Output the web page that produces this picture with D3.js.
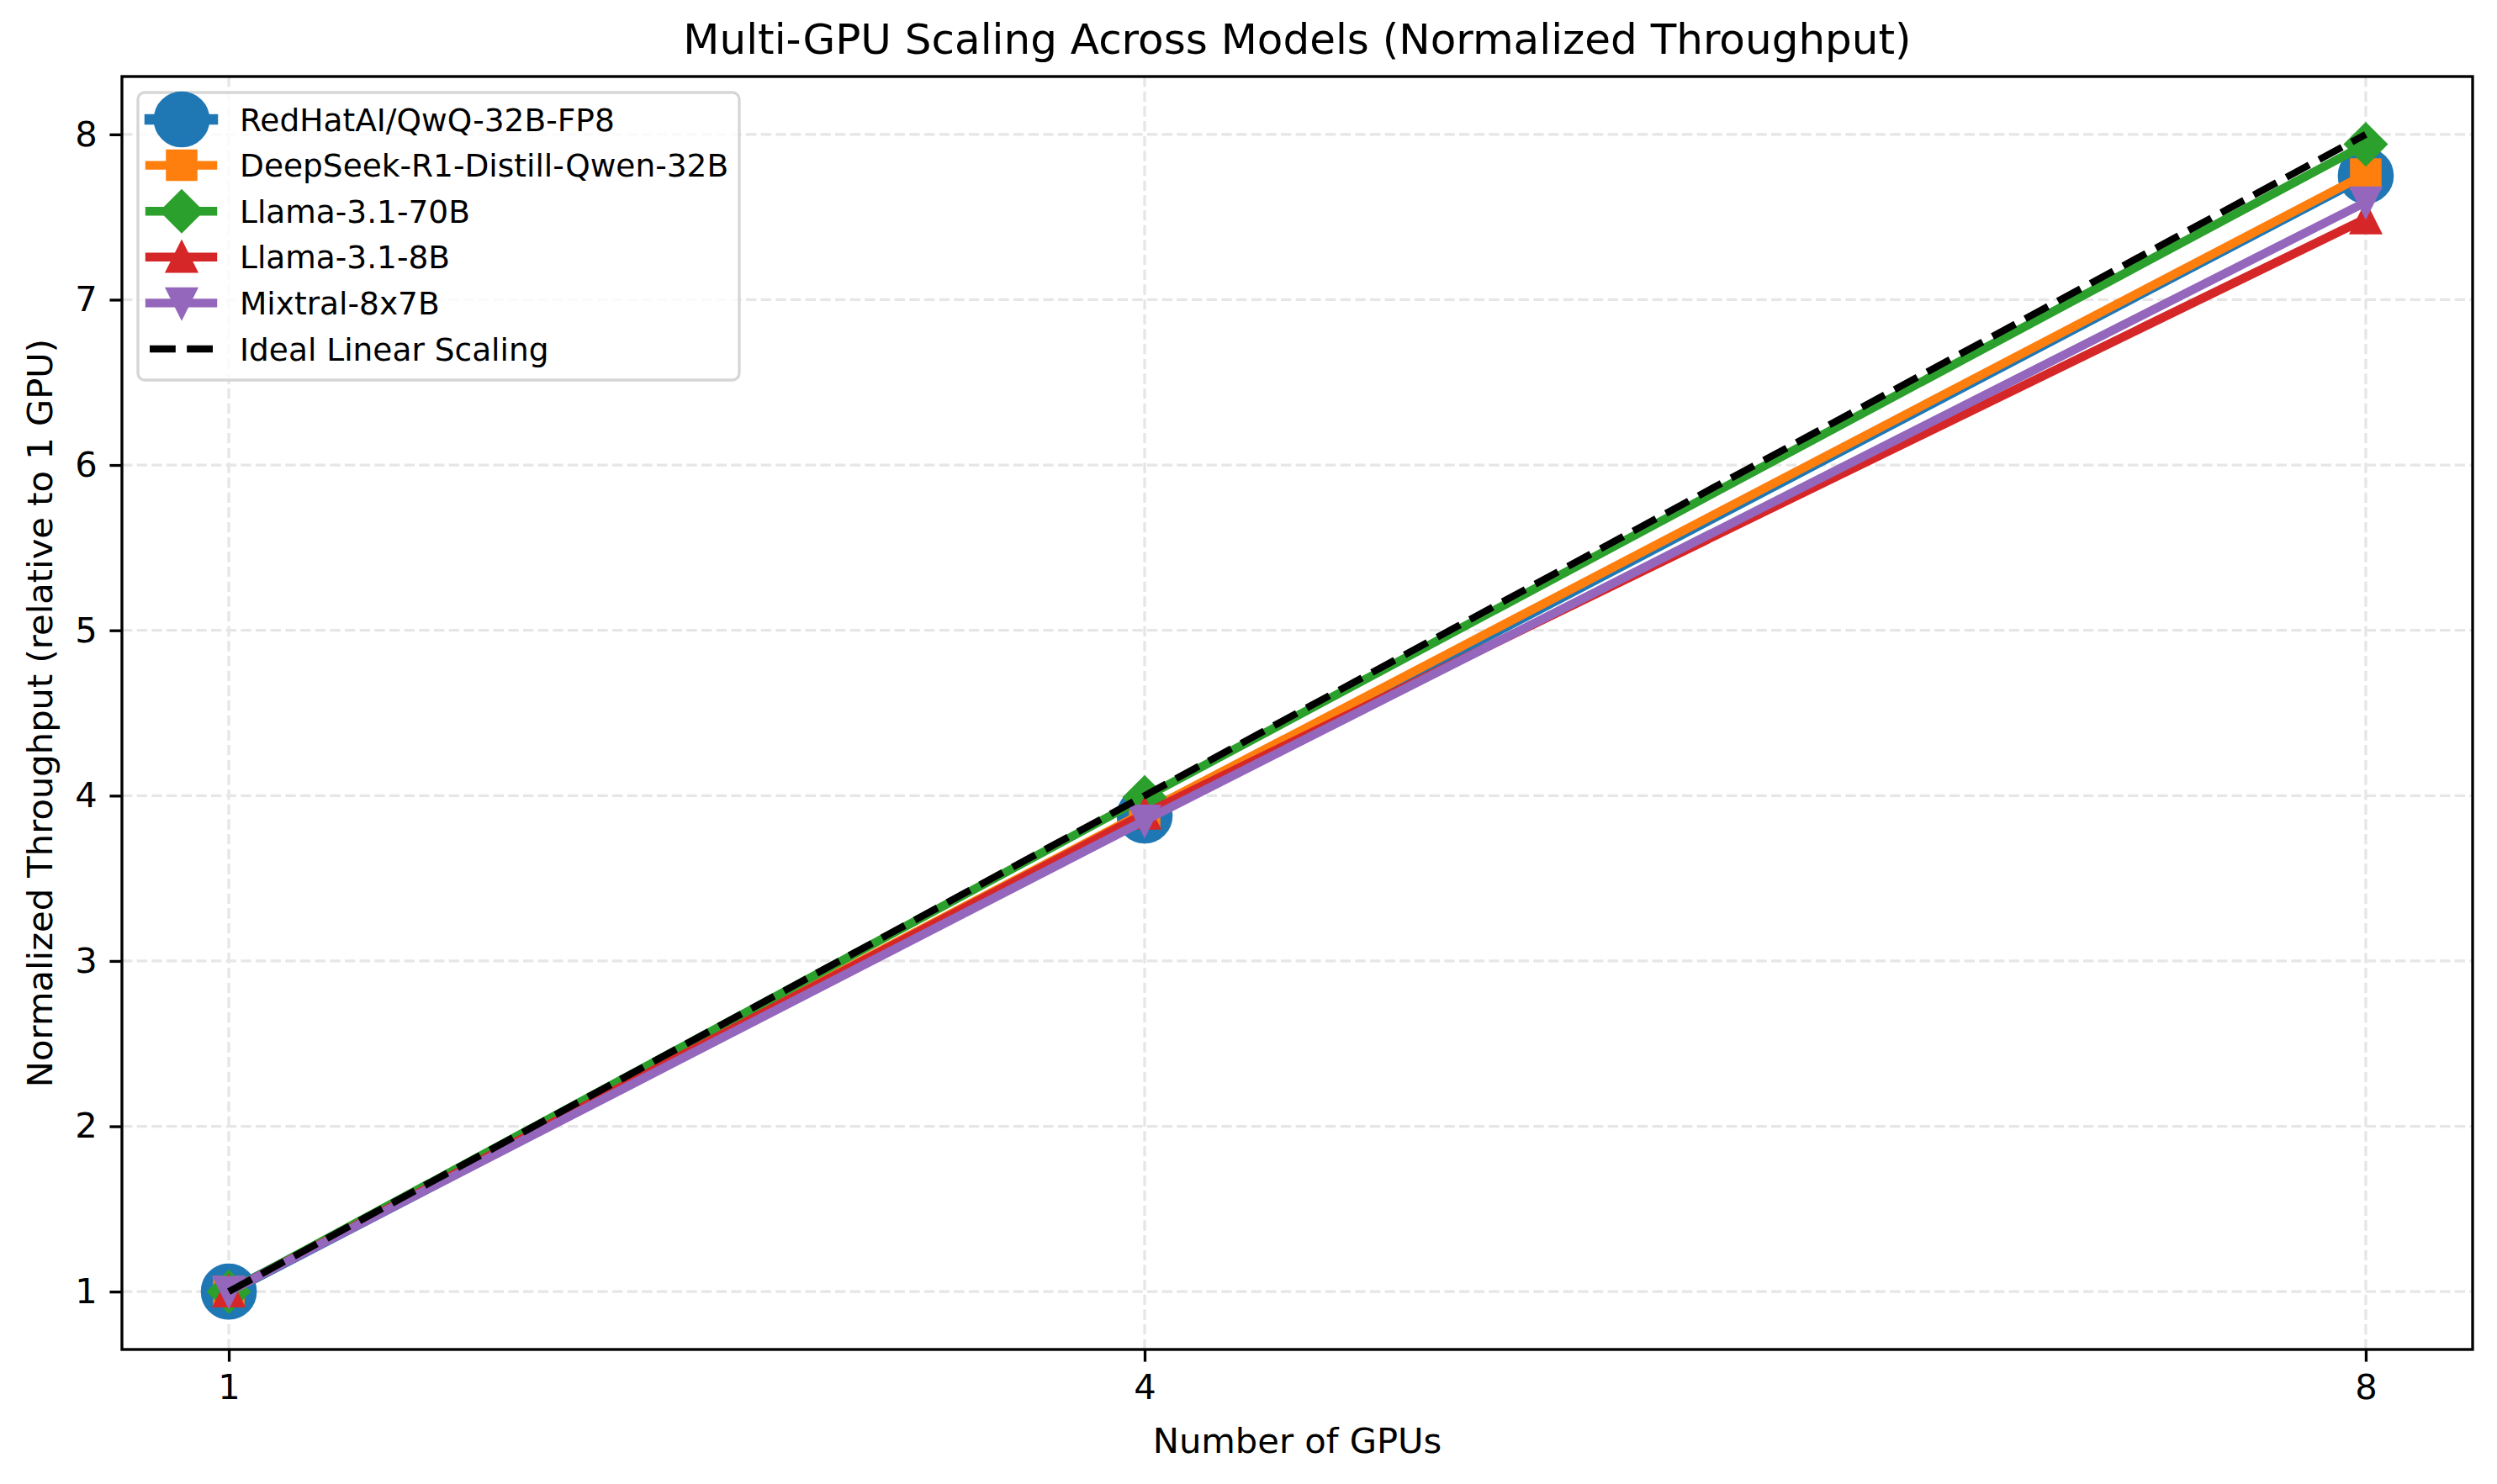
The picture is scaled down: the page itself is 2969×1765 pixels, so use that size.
<!DOCTYPE html>
<html>
<head>
<meta charset="utf-8">
<script src="https://cdn.jsdelivr.net/npm/d3@7"></script>
<style>
  body { margin: 0; background: #fff; }
  svg text { font-family: "DejaVu Sans", sans-serif; fill: #000; }
</style>
</head>
<body>
<main></main>
<script>
// values
const gpus = [1, 4, 8]
const yTicks = [1, 2, 3, 4, 5, 6, 7, 8]
const modelNames = [
  "RedHatAI/QwQ-32B-FP8",
  "DeepSeek-R1-Distill-Qwen-32B",
  "Llama-3.1-70B",
  "Llama-3.1-8B",
  "Mixtral-8x7B",
]
const qwqFp8 = [1, 3.88, 7.75]
const deepseekQwen32 = [1, 3.9, 7.76]
const llama70 = [1, 3.99, 7.94]
const llama8 = [1, 3.89, 7.49]
const mixtral = [1, 3.85, 7.59]
const ideal = [1, 4, 8]
const idealName = "Ideal Linear Scaling"

const pt = 300 / 72

// marker paths, matplotlib style, centered on 0,0
const markerPath = (kind, s) => {
  const h = s / 2
  if (kind === "o") {
    return `M${-h},0A${h},${h} 0 1,0 ${h},0A${h},${h} 0 1,0 ${-h},0Z`
  }
  if (kind === "s") return `M${-h},${-h}H${h}V${h}H${-h}Z`
  if (kind === "D") {
    const d = s * Math.SQRT1_2
    return `M0,${-d}L${d},0L0,${d}L${-d},0Z`
  }
  if (kind === "^") return `M0,${-h}L${h},${h}L${-h},${h}Z`
  if (kind === "v") return `M0,${h}L${h},${-h}L${-h},${-h}Z`
  return ""
}

const series = [
  { name: modelNames[0], values: qwqFp8, color: "#1f77b4", marker: "o", ms: 15, lw: 3 },
  { name: modelNames[1], values: deepseekQwen32, color: "#ff7f0e", marker: "s", ms: 8, lw: 2.5 },
  { name: modelNames[2], values: llama70, color: "#2ca02c", marker: "D", ms: 8, lw: 2.5 },
  { name: modelNames[3], values: llama8, color: "#d62728", marker: "^", ms: 8, lw: 2.5 },
  { name: modelNames[4], values: mixtral, color: "#9467bd", marker: "v", ms: 8, lw: 2.5 },
  { name: idealName, values: ideal, color: "#000000", marker: null, ms: 0, lw: 2, dash: true },
]

const doPlot = () => {
  const w = 2969
  const h = 1765
  const left = 145
  const right = 2940
  const top = 91
  const bottom = 1605

  const xScale = d3.scaleLinear().domain([0.65, 8.35]).range([left, right])
  const yScale = d3.scaleLinear().domain([0.65, 8.35]).range([bottom, top])

  const svg = d3
    .select("main")
    .append("svg")
    .attr("width", w)
    .attr("height", h)

  svg.append("rect").attr("width", w).attr("height", h).attr("fill", "#fff")

  // grid
  const gridDash = `${3.7 * 0.8 * pt},${1.6 * 0.8 * pt}`
  const grid = svg.append("g").attr("id", "grid")
  grid
    .selectAll(".gx")
    .data(gpus)
    .enter()
    .append("line")
    .attr("x1", (d) => xScale(d))
    .attr("x2", (d) => xScale(d))
    .attr("y1", top)
    .attr("y2", bottom)
  grid
    .selectAll(".gy")
    .data(yTicks)
    .enter()
    .append("line")
    .attr("x1", left)
    .attr("x2", right)
    .attr("y1", (d) => yScale(d))
    .attr("y2", (d) => yScale(d))
  grid
    .selectAll("line")
    .attr("stroke", "#e6e6e6")
    .attr("stroke-width", 0.8 * pt)
    .attr("stroke-dasharray", gridDash)

  // lines + markers
  const line = d3
    .line()
    .x((d, i) => xScale(gpus[i]))
    .y((d) => yScale(d))

  series.forEach((s) => {
    const g = svg.append("g").attr("class", "series")
    g.append("path")
      .attr("d", line(s.values))
      .attr("fill", "none")
      .attr("stroke", s.color)
      .attr("stroke-width", s.lw * pt)
      .attr("stroke-linejoin", "round")
      .attr("stroke-linecap", s.dash ? "butt" : "square")
      .attr("stroke-dasharray", s.dash ? `${3.7 * s.lw * pt},${1.6 * s.lw * pt}` : null)
    if (s.marker) {
      g.selectAll(".mk")
        .data(s.values)
        .enter()
        .append("path")
        .attr("transform", (d, i) => `translate(${xScale(gpus[i])},${yScale(d)})`)
        .attr("d", markerPath(s.marker, s.ms * pt))
        .attr("fill", s.color)
        .attr("stroke", s.color)
        .attr("stroke-width", pt)
    }
  })

  // axes
  const xAxis = d3
    .axisBottom(xScale)
    .tickValues(gpus)
    .tickSizeInner(3.5 * pt)
    .tickSizeOuter(0)
    .tickPadding(3.5 * pt)
  const yAxis = d3
    .axisLeft(yScale)
    .tickValues(yTicks)
    .tickSizeInner(3.5 * pt)
    .tickSizeOuter(0)
    .tickPadding(3.5 * pt)

  const gx = svg
    .append("g")
    .attr("id", "x-axis")
    .attr("transform", `translate(0, ${bottom})`)
    .call(xAxis)
  const gy = svg
    .append("g")
    .attr("id", "y-axis")
    .attr("transform", `translate(${left}, 0)`)
    .call(yAxis)

  ;[gx, gy].forEach((g) => {
    g.select(".domain").remove()
    g.selectAll(".tick line").attr("stroke", "#000").attr("stroke-width", 0.8 * pt)
    g.selectAll(".tick text")
      .style("font-family", "'DejaVu Sans', sans-serif")
      .style("font-size", `${10 * pt}px`)
      .attr("fill", "#000")
  })

  // spines
  svg
    .append("rect")
    .attr("x", left)
    .attr("y", top)
    .attr("width", right - left)
    .attr("height", bottom - top)
    .attr("fill", "none")
    .attr("stroke", "#000")
    .attr("stroke-width", 0.8 * pt)

  // title and labels
  svg
    .append("text")
    .text("Multi-GPU Scaling Across Models (Normalized Throughput)")
    .attr("x", (left + right) / 2)
    .attr("y", 64)
    .attr("text-anchor", "middle")
    .style("font-size", `${12 * pt}px`)

  svg
    .append("text")
    .text("Number of GPUs")
    .attr("x", (left + right) / 2)
    .attr("y", 1728)
    .attr("text-anchor", "middle")
    .style("font-size", `${10 * pt}px`)

  svg
    .append("text")
    .text("Normalized Throughput (relative to 1 GPU)")
    .attr("transform", `translate(62, ${(top + bottom) / 2}) rotate(-90)`)
    .attr("text-anchor", "middle")
    .style("font-size", `${10 * pt}px`)

  // legend
  const fs = 9 * pt
  const legendBox = svg.append("g").attr("id", "legend")
  legendBox
    .append("rect")
    .attr("x", 164)
    .attr("y", 110)
    .attr("width", 715)
    .attr("height", 342)
    .attr("rx", 8)
    .attr("fill", "#fff")
    .attr("fill-opacity", 0.8)
    .attr("stroke", "#d6d6d6")
    .attr("stroke-width", 0.8 * pt)

  const legend = legendBox
    .selectAll(".legend-label")
    .data(series)
    .enter()
    .append("g")
    .attr("class", "legend-label")
    .attr("transform", (d, i) => `translate(0, ${142 + i * 54.6})`)

  legend
    .append("line")
    .attr("x1", 178)
    .attr("x2", 253)
    .attr("stroke", (d) => d.color)
    .attr("stroke-width", (d) => d.lw * pt)
    .attr("stroke-linecap", (d) => (d.dash ? "butt" : "square"))
    .attr("stroke-dasharray", (d) => (d.dash ? `${3.7 * d.lw * pt},${1.6 * d.lw * pt}` : null))

  legend
    .filter((d) => d.marker)
    .append("path")
    .attr("transform", "translate(216, 0)")
    .attr("d", (d) => markerPath(d.marker, d.ms * pt))
    .attr("fill", (d) => d.color)
    .attr("stroke", (d) => d.color)
    .attr("stroke-width", pt)

  legend
    .append("text")
    .attr("x", 285)
    .attr("y", fs * 0.365)
    .style("font-size", `${fs}px`)
    .text((d) => d.name)
}

doPlot()
</script>
</body>
</html>
